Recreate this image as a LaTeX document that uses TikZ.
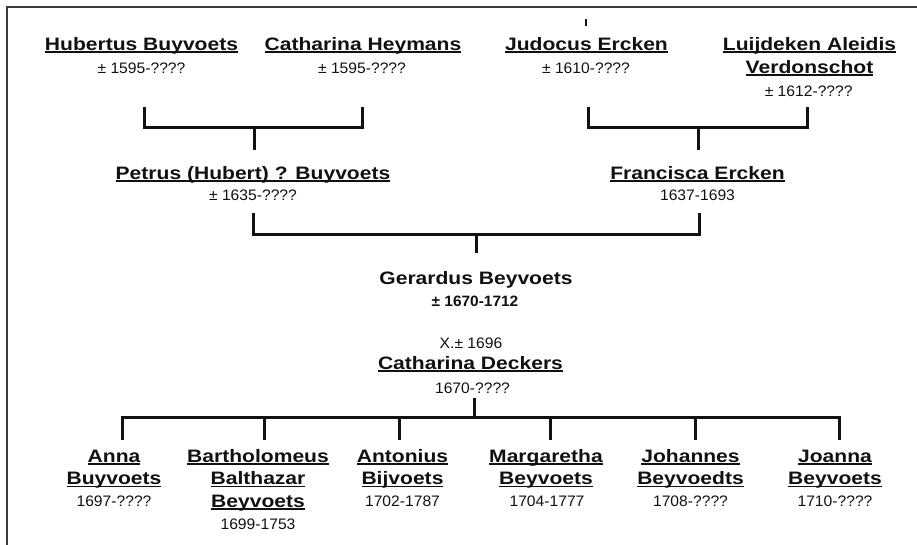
\documentclass[tikz,border=0pt]{standalone}
\usepackage{fontspec}
\setmainfont{Liberation Sans}
\newfontfamily\namefont[FakeStretch=1.17]{Liberation Sans}
\newfontfamily\datefont[FakeStretch=1.03]{Liberation Sans}
\newcommand\ulname[1]{\setbox0\hbox{#1}\rlap{\rule[-2.8pt]{\wd0}{1.4pt}}\box0}
\definecolor{ink}{HTML}{111111}
\definecolor{framec}{HTML}{3A3A3A}
\begin{document}
\begin{tikzpicture}[x=1pt,y=-1pt,
  nm/.style={inner sep=0pt, anchor=base, text=ink, font=\namefont\bfseries\fontsize{18}{20}\selectfont},
  dt/.style={inner sep=0pt, anchor=base, text=ink, font=\datefont\fontsize{15.2}{18}\selectfont},
  dtb/.style={dt, font=\datefont\bfseries\fontsize{15}{18}\selectfont},
  bar/.style={draw=ink, line width=3pt, line join=miter},
  framel/.style={draw=framec, line width=1.5pt}]
\useasboundingbox[fill=white] (0,0) rectangle (917,544);
% frame
\coordinate (fbl) at (7,545);
\coordinate (ftl) at (7,7);
\coordinate (ftr) at (918,7);
\draw[framel] (fbl) -- (ftl) -- (ftr);
\coordinate (tk1) at (586,19);
\coordinate (tk2) at (586,26);
\draw[draw=ink, line width=2pt] (tk1) -- (tk2);
% generation 1
\node[nm] (hub) at (141.5,50) {\ulname{Hubertus Buyvoets}};
\node[dt] (hubd) at (141.5,73) {± 1595-????};
\node[nm] (cat) at (363,50) {\ulname{Catharina Heymans}};
\node[dt] (catd) at (362,73) {± 1595-????};
\node[nm] (jud) at (586.5,50) {\ulname{Judocus Ercken}};
\node[dt] (judd) at (586,73) {± 1610-????};
\node[nm] (lui1) at (809.5,50) {\ulname{Luijdeken Aleidis}};
\node[nm] (lui2) at (809.5,73) {\ulname{Verdonschot}};
\node[dt] (luid) at (808.7,96) {± 1612-????};
% generation 2
\node[nm] (pet) at (253,179) {\ulname{Petrus (Hubert) ? Buyvoets}};
\node[dt] (petd) at (253,200) {± 1635-????};
\node[nm] (fra) at (697.5,179) {\ulname{Francisca Ercken}};
\node[dt] (frad) at (697.5,200) {1637-1693};
% generation 3
\node[nm] (ger) at (476,284) {Gerardus Beyvoets};
\node[dtb] (gerd) at (475,306) {± 1670-1712};
\node[dt] (marr) at (471,348) {X.± 1696};
\node[nm] (cde) at (470.5,369) {\ulname{Catharina Deckers}};
\node[dt] (cded) at (472.5,393) {1670-????};
% children
\node[nm] (an1) at (114,462) {\ulname{Anna}};
\node[nm] (an2) at (114,484.5) {\ulname{Buyvoets}};
\node[dt] (and) at (114,506.5) {1697-????};
\node[nm] (ba1) at (258,462) {\ulname{Bartholomeus}};
\node[nm] (ba2) at (258,484.5) {\ulname{Balthazar}};
\node[nm] (ba3) at (258,507) {\ulname{Beyvoets}};
\node[dt] (bad) at (258,529.5) {1699-1753};
\node[nm] (at1) at (402.5,462) {\ulname{Antonius}};
\node[nm] (at2) at (402.5,484.5) {\ulname{Bijvoets}};
\node[dt] (atd) at (402.5,506.5) {1702-1787};
\node[nm] (ma1) at (546,462) {\ulname{Margaretha}};
\node[nm] (ma2) at (546,484.5) {\ulname{Beyvoets}};
\node[dt] (mad) at (547,506.5) {1704-1777};
\node[nm] (jo1) at (690.5,462) {\ulname{Johannes}};
\node[nm] (jo2) at (690.5,484.5) {\ulname{Beyvoedts}};
\node[dt] (jod) at (690.5,506.5) {1708-????};
\node[nm] (ja1) at (835,462) {\ulname{Joanna}};
\node[nm] (ja2) at (835,484.5) {\ulname{Beyvoets}};
\node[dt] (jad) at (835,506.5) {1710-????};
% bracket 1 (left parents)
\coordinate (b1a) at (144,107);
\coordinate (b1b) at (362,107);
\coordinate (b1m) at (254,127.5);
\coordinate (b1s) at (254,150);
\draw[bar] (b1a) -- ++(0,20.5) -| (b1b);
\draw[bar] (b1m) -- (b1s);
% bracket 1 (right parents)
\coordinate (b1c) at (588,107);
\coordinate (b1d) at (807,107);
\coordinate (b1n) at (698.5,127.5);
\coordinate (b1t) at (698.5,150);
\draw[bar] (b1c) -- ++(0,20.5) -| (b1d);
\draw[bar] (b1n) -- (b1t);
% bracket 2
\coordinate (b2a) at (253,213);
\coordinate (b2b) at (699,213);
\coordinate (b2m) at (476,234);
\coordinate (b2s) at (476,253);
\draw[bar] (b2a) -- ++(0,21) -| (b2b);
\draw[bar] (b2m) -- (b2s);
% bracket 3
\coordinate (b3s) at (474,398);
\coordinate (b3m) at (474,417);
\draw[bar] (b3s) -- (b3m);
\coordinate (k1) at (122,440);
\coordinate (k2) at (264,440);
\coordinate (k3) at (399,440);
\coordinate (k4) at (550,440);
\coordinate (k5) at (695,440);
\coordinate (k6) at (839,440);
\draw[bar] (k1) -- ++(0,-23) -| (k6);
\foreach \k in {k2,k3,k4,k5} \draw[bar] (\k) -- (\k |- b3m);
\end{tikzpicture}
\end{document}
